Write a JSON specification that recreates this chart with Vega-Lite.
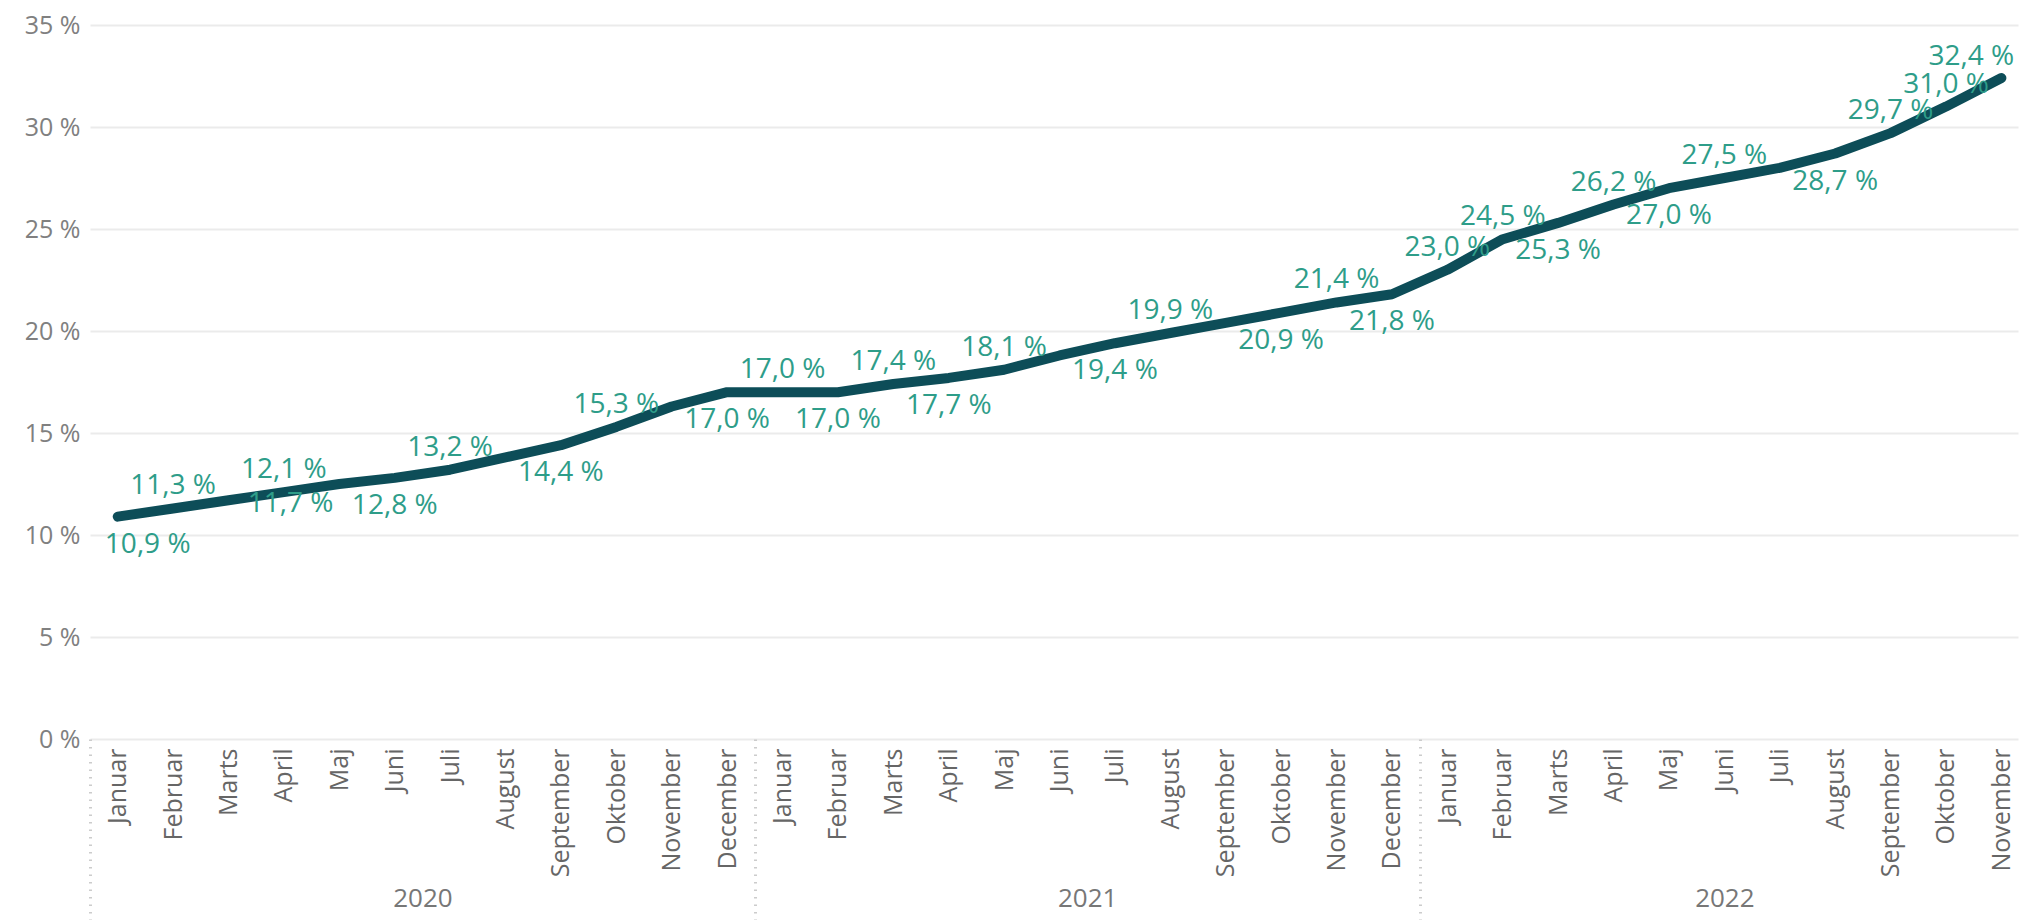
{
  "$schema": "https://vega.github.io/schema/vega-lite/v6.json",
  "width": 1928,
  "height": 714,
  "autosize": {"type": "none"},
  "padding": {"left": 90, "top": 25, "right": 5, "bottom": 181},
  "background": "#ffffff",
  "config": {"view": {"stroke": null}, "font": "Open Sans"},
  "data": {
    "values": [
      {"i": 0, "year": 2020, "month": "Januar", "value": 10.9},
      {"i": 1, "year": 2020, "month": "Februar", "value": 11.3},
      {"i": 2, "year": 2020, "month": "Marts", "value": 11.7},
      {"i": 3, "year": 2020, "month": "April", "value": 12.1},
      {"i": 4, "year": 2020, "month": "Maj", "value": 12.5},
      {"i": 5, "year": 2020, "month": "Juni", "value": 12.8},
      {"i": 6, "year": 2020, "month": "Juli", "value": 13.2},
      {"i": 7, "year": 2020, "month": "August", "value": 13.8},
      {"i": 8, "year": 2020, "month": "September", "value": 14.4},
      {"i": 9, "year": 2020, "month": "Oktober", "value": 15.3},
      {"i": 10, "year": 2020, "month": "November", "value": 16.3},
      {"i": 11, "year": 2020, "month": "December", "value": 17.0},
      {"i": 12, "year": 2021, "month": "Januar", "value": 17.0},
      {"i": 13, "year": 2021, "month": "Februar", "value": 17.0},
      {"i": 14, "year": 2021, "month": "Marts", "value": 17.4},
      {"i": 15, "year": 2021, "month": "April", "value": 17.7},
      {"i": 16, "year": 2021, "month": "Maj", "value": 18.1},
      {"i": 17, "year": 2021, "month": "Juni", "value": 18.8},
      {"i": 18, "year": 2021, "month": "Juli", "value": 19.4},
      {"i": 19, "year": 2021, "month": "August", "value": 19.9},
      {"i": 20, "year": 2021, "month": "September", "value": 20.4},
      {"i": 21, "year": 2021, "month": "Oktober", "value": 20.9},
      {"i": 22, "year": 2021, "month": "November", "value": 21.4},
      {"i": 23, "year": 2021, "month": "December", "value": 21.8},
      {"i": 24, "year": 2022, "month": "Januar", "value": 23.0},
      {"i": 25, "year": 2022, "month": "Februar", "value": 24.5},
      {"i": 26, "year": 2022, "month": "Marts", "value": 25.3},
      {"i": 27, "year": 2022, "month": "April", "value": 26.2},
      {"i": 28, "year": 2022, "month": "Maj", "value": 27.0},
      {"i": 29, "year": 2022, "month": "Juni", "value": 27.5},
      {"i": 30, "year": 2022, "month": "Juli", "value": 28.0},
      {"i": 31, "year": 2022, "month": "August", "value": 28.7},
      {"i": 32, "year": 2022, "month": "September", "value": 29.7},
      {"i": 33, "year": 2022, "month": "Oktober", "value": 31.0},
      {"i": 34, "year": 2022, "month": "November", "value": 32.4}
    ]
  },
  "transform": [
    {"calculate": "replace(format(datum.value, '.1f'), '.', ',') + ' %'", "as": "label"}
  ],
  "resolve": {"axis": {"x": "independent", "y": "independent"}},
  "layer": [
    {
      "mark": {"type": "line", "color": "#0d4d58", "strokeWidth": 10, "strokeCap": "round", "strokeJoin": "round"},
      "encoding": {
        "x": {
          "field": "i", "type": "quantitative",
          "scale": {"domain": [-0.5, 34.3], "nice": false, "zero": false},
          "axis": {
            "orient": "bottom", "title": null, "grid": false, "domain": false, "ticks": false, "tickSize": 0,
            "values": [0,1,2,3,4,5,6,7,8,9,10,11,12,13,14,15,16,17,18,19,20,21,22,23,24,25,26,27,28,29,30,31,32,33,34],
            "labelExpr": "['Januar','Februar','Marts','April','Maj','Juni','Juli','August','September','Oktober','November','December'][datum.value % 12]",
            "labelAngle": 270, "labelAlign": "right", "labelBaseline": "middle",
            "labelPadding": 9, "labelFont": "Open Sans", "labelFontSize": 25, "labelColor": "#666666",
            "labelOverlap": false, "labelBound": false, "labelFlush": false
          }
        },
        "y": {
          "field": "value", "type": "quantitative",
          "scale": {"domain": [0, 35], "nice": false, "zero": true},
          "axis": {
            "orient": "left", "title": null, "values": [0,5,10,15,20,25,30,35], "labelExpr": "datum.value + ' %'",
            "domain": false, "ticks": false, "tickSize": 0, "labelPadding": 10,
            "labelFont": "Open Sans", "labelFontSize": 25, "labelColor": "#808080",
            "grid": true, "gridColor": "#ebebeb", "gridWidth": 2
          }
        }
      }
    },
    {
      "transform": [{"filter": "indexof([1,3,6,9,12,14,16,19,22,24,25,27,29,32,33], datum.i) >= 0"}],
      "mark": {"type": "text", "font": "Open Sans", "fontSize": 28, "color": "#2e9d89", "baseline": "middle", "align": "center", "dy": -22},
      "encoding": {
        "x": {
          "field": "i", "type": "quantitative",
          "scale": {"domain": [-0.5, 34.3], "nice": false, "zero": false},
          "axis": {
            "orient": "bottom", "title": null, "grid": false, "domain": false, "ticks": false, "tickSize": 0,
            "values": [5.5, 17.5, 29],
            "labelExpr": "datum.value < 12 ? '2020' : datum.value < 24 ? '2021' : '2022'",
            "labelAngle": 0, "labelAlign": "center", "labelBaseline": "top",
            "labelPadding": 146, "labelFont": "Open Sans", "labelFontSize": 26, "labelColor": "#777777",
            "labelOverlap": false, "labelBound": false, "labelFlush": false
          }
        },
        "y": {"field": "value", "type": "quantitative", "scale": {"domain": [0, 35], "nice": false}, "axis": null},
        "text": {"field": "label"}
      }
    },
    {
      "transform": [{"filter": "indexof([5,8,11,13,15,18,21,23,26,28,31], datum.i) >= 0"}],
      "mark": {"type": "text", "font": "Open Sans", "fontSize": 28, "color": "#2e9d89", "baseline": "middle", "align": "center", "dy": 28},
      "encoding": {
        "x": {
          "field": "i", "type": "quantitative",
          "scale": {"domain": [-0.5, 34.3], "nice": false, "zero": false},
          "axis": {
            "orient": "bottom", "title": null, "grid": false, "domain": false, "labels": false,
            "ticks": true, "tickSize": 181, "tickWidth": 3, "tickColor": "#cccccc", "tickDash": [1.5, 6],
            "values": [-0.5, 11.5, 23.5]
          }
        },
        "y": {"field": "value", "type": "quantitative", "scale": {"domain": [0, 35], "nice": false}, "axis": null},
        "text": {"field": "label"}
      }
    },
    {
      "transform": [{"filter": "datum.i == 0"}],
      "mark": {"type": "text", "font": "Open Sans", "fontSize": 28, "color": "#2e9d89", "baseline": "middle", "align": "center", "dx": 30, "dy": 28},
      "encoding": {
        "x": {"field": "i", "type": "quantitative", "scale": {"domain": [-0.5, 34.3], "nice": false, "zero": false}, "axis": null},
        "y": {"field": "value", "type": "quantitative", "scale": {"domain": [0, 35], "nice": false}, "axis": null},
        "text": {"field": "label"}
      }
    },
    {
      "transform": [{"filter": "datum.i == 2"}],
      "mark": {"type": "text", "font": "Open Sans", "fontSize": 28, "color": "#2e9d89", "baseline": "middle", "align": "center", "dx": 62, "dy": 4},
      "encoding": {
        "x": {"field": "i", "type": "quantitative", "scale": {"domain": [-0.5, 34.3], "nice": false, "zero": false}, "axis": null},
        "y": {"field": "value", "type": "quantitative", "scale": {"domain": [0, 35], "nice": false}, "axis": null},
        "text": {"field": "label"}
      }
    },
    {
      "transform": [{"filter": "datum.i == 34"}],
      "mark": {"type": "text", "font": "Open Sans", "fontSize": 28, "color": "#2e9d89", "baseline": "middle", "align": "center", "dx": -30, "dy": -21},
      "encoding": {
        "x": {"field": "i", "type": "quantitative", "scale": {"domain": [-0.5, 34.3], "nice": false, "zero": false}, "axis": null},
        "y": {"field": "value", "type": "quantitative", "scale": {"domain": [0, 35], "nice": false}, "axis": null},
        "text": {"field": "label"}
      }
    }
  ]
}
